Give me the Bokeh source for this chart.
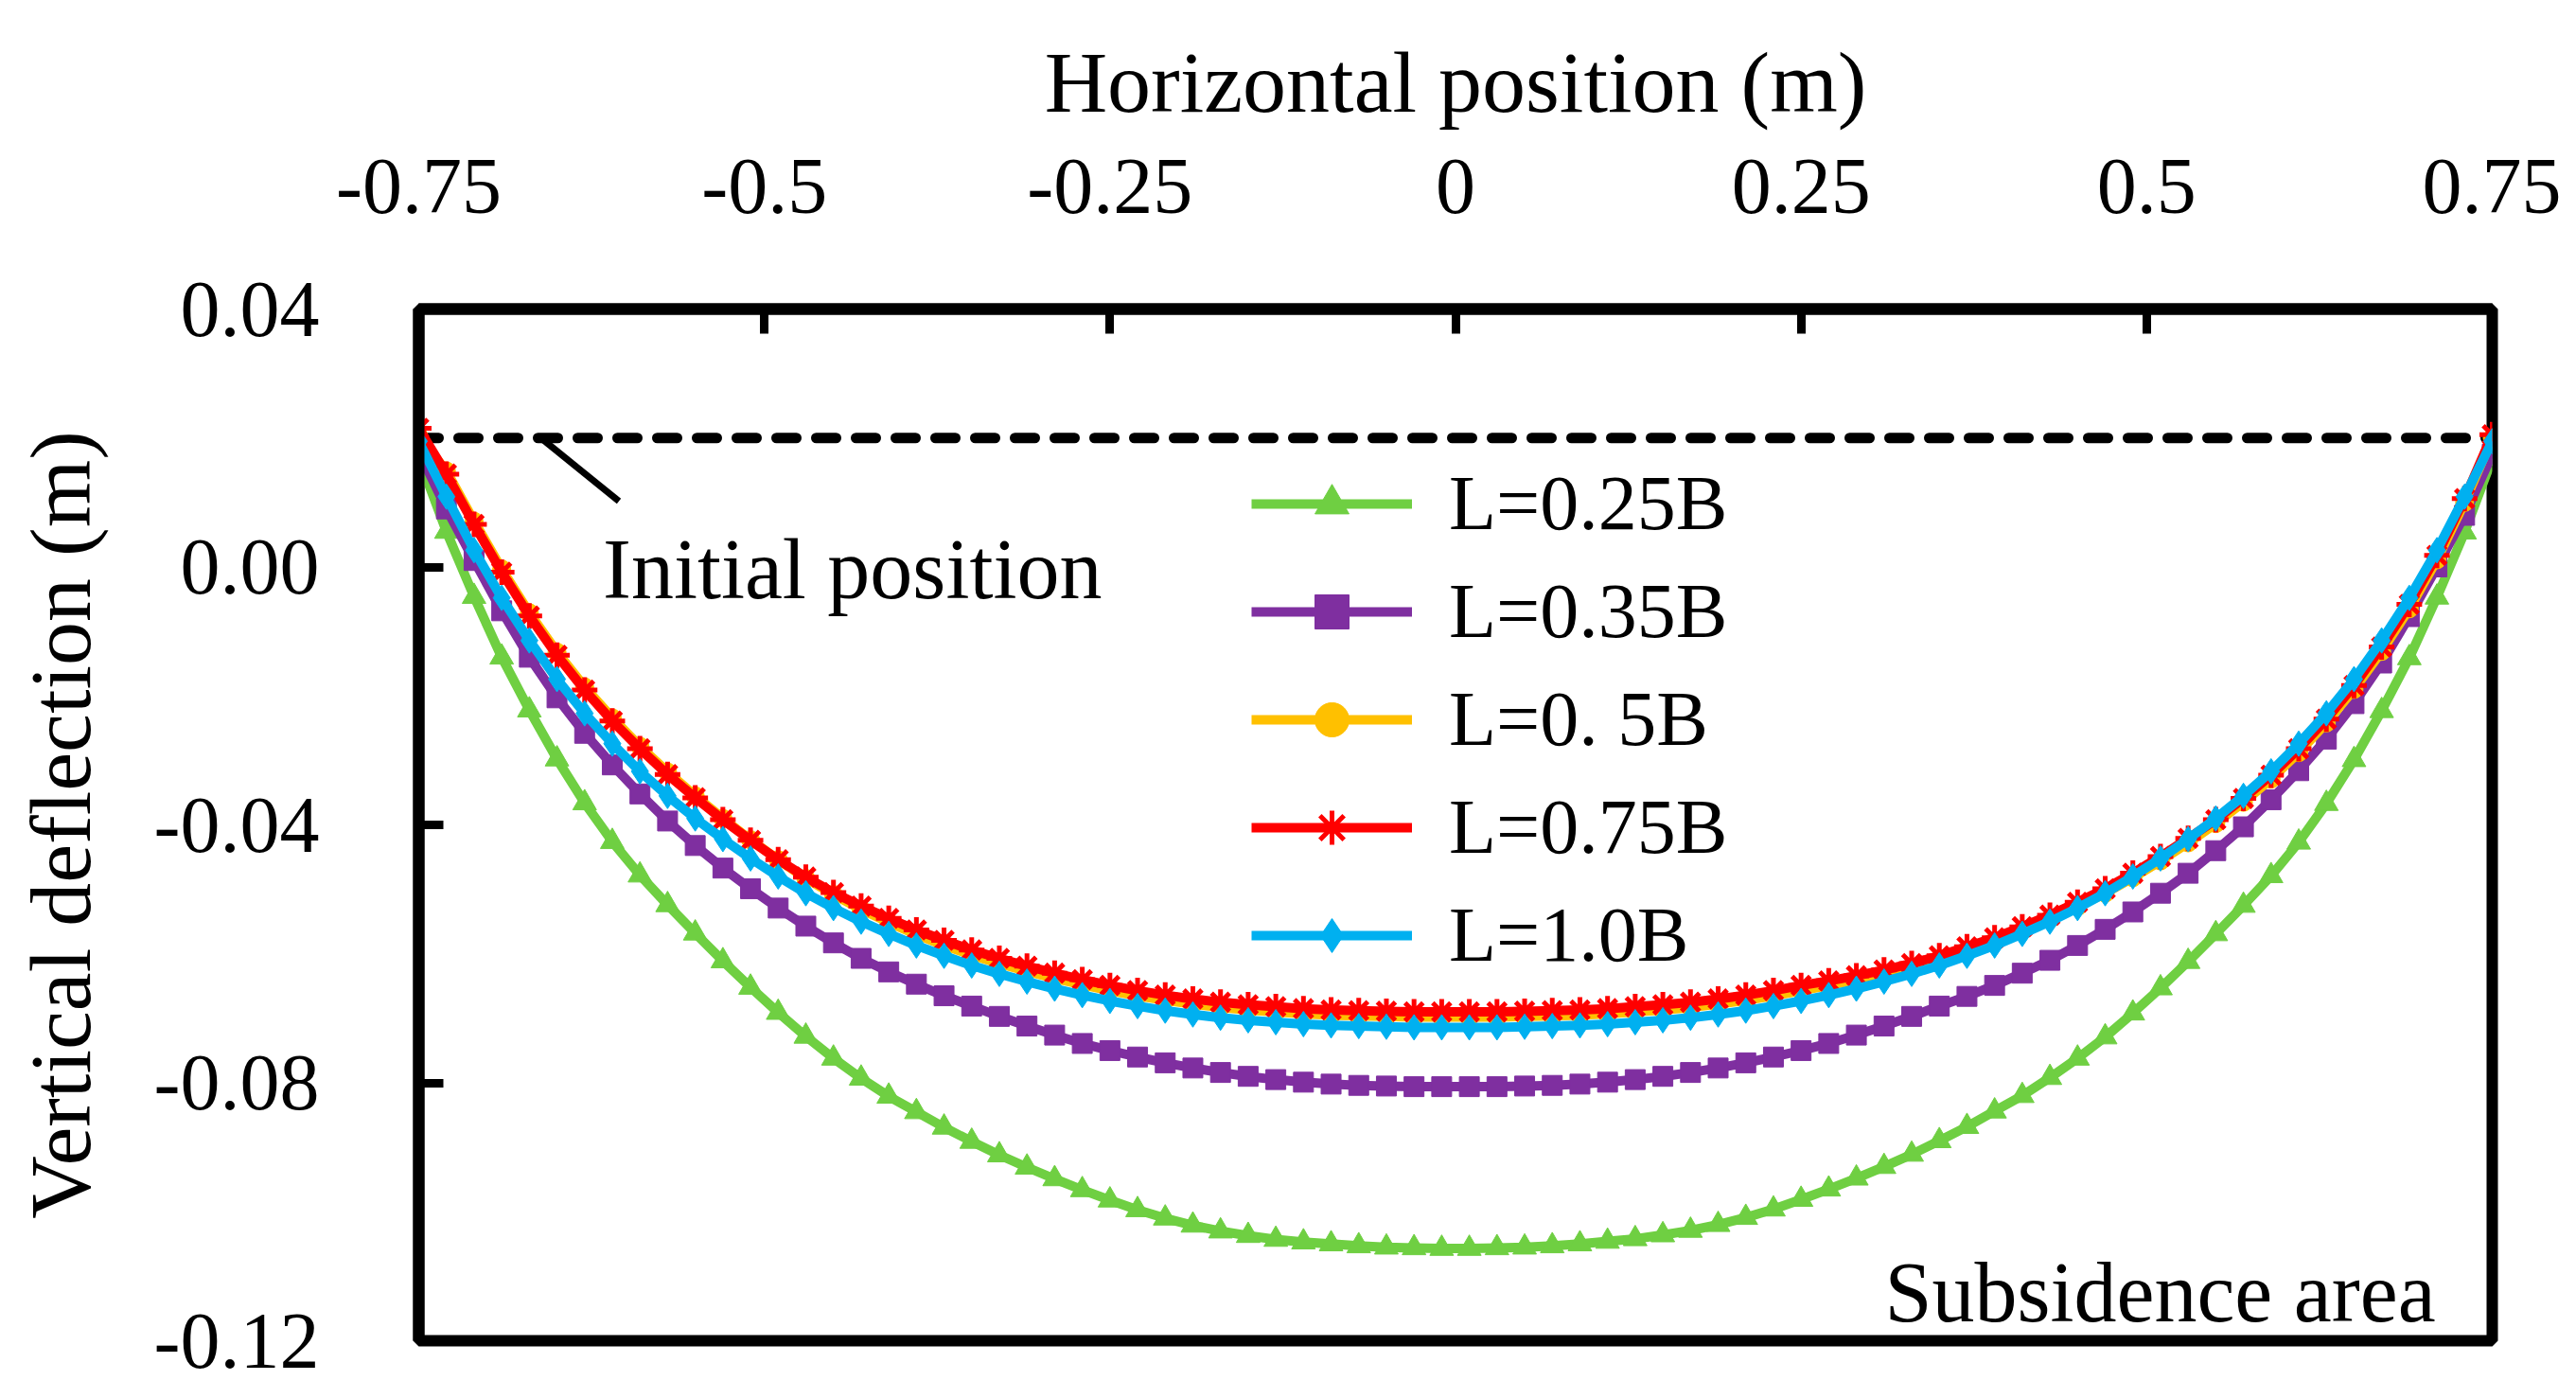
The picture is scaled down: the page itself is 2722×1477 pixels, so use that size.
from bokeh.plotting import figure
from bokeh.models import FixedTicker, Legend, LegendItem, Label, Arrow, Span
from bokeh.embed import file_html
from bokeh.resources import INLINE

# horizontal positions of the computed points (m)
x_pos = [-0.75, -0.73, -0.71, -0.69, -0.67, -0.65, -0.63, -0.61, -0.59, -0.57,
         -0.55, -0.53, -0.51, -0.49, -0.47, -0.45, -0.43, -0.41, -0.39, -0.37,
         -0.35, -0.33, -0.31, -0.29, -0.27, -0.25, -0.23, -0.21, -0.19, -0.17,
         -0.15, -0.13, -0.11, -0.09, -0.07, -0.05, -0.03, -0.01,
         0.01, 0.03, 0.05, 0.07, 0.09, 0.11, 0.13, 0.15, 0.17, 0.19,
         0.21, 0.23, 0.25, 0.27, 0.29, 0.31, 0.33, 0.35, 0.37, 0.39,
         0.41, 0.43, 0.45, 0.47, 0.49, 0.51, 0.53, 0.55, 0.57, 0.59,
         0.61, 0.63, 0.65, 0.67, 0.69, 0.71, 0.73, 0.75]

# vertical deflection (m) for each L value
l_025 = [0.0170, 0.0055, -0.0046, -0.0140, -0.0222, -0.0298, -0.0366, -0.0426, -0.0478, -0.0524,
         -0.0568, -0.0611, -0.0652, -0.0691, -0.0728, -0.0762, -0.0793, -0.0821, -0.0845, -0.0869,
         -0.0891, -0.0912, -0.0931, -0.0949, -0.0966, -0.0982, -0.0997, -0.1010, -0.1021, -0.1030,
         -0.1037, -0.1043, -0.1047, -0.1050, -0.1053, -0.1055, -0.1056, -0.1057,
         -0.1057, -0.1056, -0.1055, -0.1053, -0.1050, -0.1046, -0.1042, -0.1036, -0.1029, -0.1020,
         -0.1009, -0.0996, -0.0981, -0.0965, -0.0948, -0.0930, -0.0911, -0.0890, -0.0868, -0.0844,
         -0.0820, -0.0792, -0.0762, -0.0729, -0.0692, -0.0653, -0.0612, -0.0569, -0.0525, -0.0479,
         -0.0427, -0.0367, -0.0299, -0.0223, -0.0141, -0.0047, 0.0054, 0.0168]

l_035 = [0.0180, 0.0090, 0.0010, -0.0068, -0.0140, -0.0203, -0.0258, -0.0307, -0.0352, -0.0394,
         -0.0432, -0.0467, -0.0499, -0.0529, -0.0557, -0.0583, -0.0607, -0.0628, -0.0647, -0.0665,
         -0.0681, -0.0697, -0.0712, -0.0726, -0.0739, -0.0750, -0.0760, -0.0769, -0.0777, -0.0784,
         -0.0790, -0.0795, -0.0799, -0.0802, -0.0804, -0.0805, -0.0806, -0.0806,
         -0.0806, -0.0806, -0.0805, -0.0804, -0.0802, -0.0799, -0.0795, -0.0790, -0.0784, -0.0777,
         -0.0769, -0.0760, -0.0750, -0.0739, -0.0726, -0.0712, -0.0697, -0.0681, -0.0666, -0.0649,
         -0.0630, -0.0610, -0.0587, -0.0562, -0.0535, -0.0506, -0.0475, -0.0440, -0.0403, -0.0361,
         -0.0316, -0.0267, -0.0212, -0.0149, -0.0077, 0.0000, 0.0080, 0.0175]

l_05 = [0.0203, 0.0149, 0.0071, -0.0003, -0.0071, -0.0132, -0.0186, -0.0234, -0.0278, -0.0318,
        -0.0355, -0.0390, -0.0423, -0.0454, -0.0483, -0.0508, -0.0531, -0.0551, -0.0570, -0.0587,
        -0.0602, -0.0615, -0.0627, -0.0638, -0.0648, -0.0657, -0.0665, -0.0672, -0.0678, -0.0683,
        -0.0687, -0.0690, -0.0693, -0.0695, -0.0696, -0.0697, -0.0698, -0.0698,
        -0.0698, -0.0698, -0.0697, -0.0696, -0.0695, -0.0693, -0.0690, -0.0687, -0.0683, -0.0678,
        -0.0672, -0.0665, -0.0657, -0.0649, -0.0640, -0.0631, -0.0620, -0.0608, -0.0595, -0.0580,
        -0.0564, -0.0546, -0.0527, -0.0506, -0.0482, -0.0456, -0.0428, -0.0398, -0.0365, -0.0329,
        -0.0288, -0.0242, -0.0190, -0.0131, -0.0065, 0.0011, 0.0100, 0.0200]

l_075 = [0.0215, 0.0144, 0.0066, -0.0008, -0.0076, -0.0137, -0.0191, -0.0239, -0.0282, -0.0322,
         -0.0358, -0.0392, -0.0424, -0.0454, -0.0481, -0.0505, -0.0526, -0.0545, -0.0563, -0.0579,
         -0.0594, -0.0607, -0.0619, -0.0630, -0.0640, -0.0649, -0.0657, -0.0664, -0.0670, -0.0675,
         -0.0679, -0.0682, -0.0685, -0.0687, -0.0688, -0.0689, -0.0690, -0.0690,
         -0.0690, -0.0690, -0.0689, -0.0688, -0.0687, -0.0685, -0.0682, -0.0679, -0.0675, -0.0670,
         -0.0664, -0.0657, -0.0649, -0.0642, -0.0634, -0.0625, -0.0615, -0.0603, -0.0589, -0.0575,
         -0.0558, -0.0540, -0.0520, -0.0499, -0.0475, -0.0449, -0.0421, -0.0392, -0.0359, -0.0323,
         -0.0282, -0.0236, -0.0184, -0.0124, -0.0058, 0.0018, 0.0106, 0.0205]

l_10 = [0.0195, 0.0109, 0.0026, -0.0048, -0.0114, -0.0174, -0.0227, -0.0274, -0.0317, -0.0355,
        -0.0390, -0.0422, -0.0452, -0.0480, -0.0506, -0.0529, -0.0550, -0.0569, -0.0587, -0.0603,
        -0.0618, -0.0631, -0.0643, -0.0654, -0.0664, -0.0673, -0.0681, -0.0688, -0.0694, -0.0699,
        -0.0703, -0.0706, -0.0709, -0.0711, -0.0712, -0.0713, -0.0714, -0.0714,
        -0.0714, -0.0714, -0.0713, -0.0712, -0.0711, -0.0709, -0.0706, -0.0703, -0.0699, -0.0694,
        -0.0688, -0.0681, -0.0673, -0.0664, -0.0654, -0.0643, -0.0631, -0.0618, -0.0603, -0.0587,
        -0.0569, -0.0550, -0.0529, -0.0506, -0.0480, -0.0452, -0.0422, -0.0390, -0.0355, -0.0317,
        -0.0274, -0.0227, -0.0174, -0.0114, -0.0048, 0.0026, 0.0109, 0.0195]

labels = ["L=0.25B", "L=0.35B", "L=0. 5B", "L=0.75B", "L=1.0B"]
colors = ["#6FCF42", "#7F2FA0", "#FFC000", "#FF0000", "#00B0F0"]
markers = ["triangle", "square", "circle", "asterisk", "diamond"]
sizes = [25, 21, 19, 27, 27]

x_ticks = [-0.75, -0.5, -0.25, 0, 0.25, 0.5, 0.75]
x_tick_text = ["-0.75", "-0.5", "-0.25", "0", "0.25", "0.5", "0.75"]
y_ticks = [0.04, 0.0, -0.04, -0.08, -0.12]
y_tick_text = ["0.04", "0.00", "-0.04", "-0.08", "-0.12"]

FONT = "Liberation Serif"

p = figure(width=2706, height=1461, x_range=(-0.75, 0.75), y_range=(-0.12, 0.04),
           x_axis_location="above", output_backend="svg", toolbar_location=None,
           min_border_left=442, min_border_right=73, min_border_top=326, min_border_bottom=45)
p.grid.visible = False
p.outline_line_color = "black"
p.outline_line_width = 12

# initial position of the belt
p.add_layout(Span(location=0.02, dimension="width", line_color="black", line_width=11,
                  line_dash="21 21", line_cap="round", level="underlay"))

items = []
series = [l_025, l_035, l_05, l_075, l_10]
for ys, lab, col, mk, sz in zip(series, labels, colors, markers, sizes):
    r1 = p.line(x_pos, ys, line_color=col, line_width=10)
    if mk == "asterisk":
        r2 = p.scatter(x_pos, ys, marker=mk, size=sz, line_color=col, line_width=5)
    else:
        r2 = p.scatter(x_pos, ys, marker=mk, size=sz, fill_color=col, line_color=col)
    items.append(LegendItem(label=lab, renderers=[r1, r2]))

legend = Legend(items=items, location=(880, 381), label_text_font=FONT,
                label_text_font_size="82px", label_text_color="black",
                glyph_width=170, glyph_height=90, label_height=90, label_standoff=39,
                spacing=20, padding=0, margin=0,
                border_line_color=None, background_fill_alpha=0)
p.add_layout(legend)

xa = p.xaxis[0]
ya = p.yaxis[0]
xa.ticker = FixedTicker(ticks=x_ticks)
xa.major_label_overrides = dict(zip(x_ticks, x_tick_text))
ya.ticker = FixedTicker(ticks=y_ticks)
ya.major_label_overrides = dict(zip(y_ticks, y_tick_text))
xa.axis_label = "Horizontal position (m)"
ya.axis_label = "Vertical deflection (m)"
xa.major_label_standoff = 102
ya.major_label_standoff = 105
xa.axis_label_standoff = 28
ya.axis_label_standoff = 45
for ax in (xa, ya):
    ax.axis_line_width = 12
    ax.major_tick_line_width = 9
    ax.major_tick_in = 26
    ax.major_tick_out = 0
    ax.minor_tick_line_color = None
    ax.major_label_text_font = FONT
    ax.major_label_text_font_size = "84px"
    ax.major_label_text_color = "black"
    ax.axis_label_text_font = FONT
    ax.axis_label_text_font_size = "92px"
    ax.axis_label_text_font_style = "normal"
    ax.axis_label_text_color = "black"

p.add_layout(Arrow(end=None, x_start=-0.660, y_start=0.0197, x_end=-0.6052, y_end=0.0102,
                   line_color="black", line_width=7))
p.add_layout(Label(x=-0.6169, y=-0.0004, text="Initial position", text_font=FONT,
                   text_font_size="90px", text_color="black",
                   text_align="left", text_baseline="alphabetic"))
p.add_layout(Label(x=0.709, y=-0.1125, text="Subsidence area", text_font=FONT,
                   text_font_size="90px", text_color="black",
                   text_align="right", text_baseline="alphabetic"))

open("out.html", "w").write(file_html(p, INLINE))
